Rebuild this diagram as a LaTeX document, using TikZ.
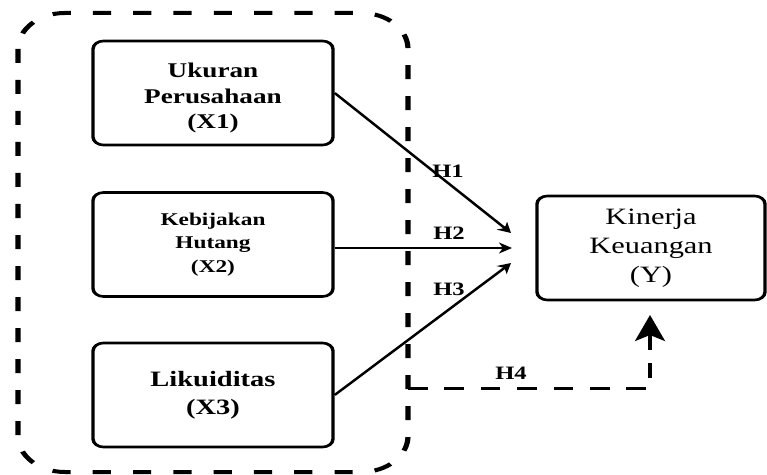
\documentclass[tikz,border=0pt]{standalone}
\usepackage{fontspec}
\setmainfont{Liberation Serif}
\usetikzlibrary{arrows.meta}
\begin{document}
\begin{tikzpicture}[x=0.76923bp,y=-1bp,
  box/.style={draw, line width=2.6bp, rounded corners=8bp, minimum width=184.6bp,
    minimum height=104bp, align=center, inner sep=0pt},
  ybox/.style={draw, line width=2.6bp, rounded corners=8bp, minimum width=175.4bp,
    minimum height=104bp, align=center, inner sep=0pt,
    font=\fontsize{23.5}{29}\selectfont},
  frame/.style={line width=4bp, dash pattern=on 14bp off 17bp, rounded corners=36bp},
  hyp/.style={line width=2.2bp, -{Stealth[length=10bp,width=11bp,inset=3bp]}},
  modline/.style={line width=3bp, dash pattern=on 15bp off 13bp,
    -{Stealth[length=26bp,width=23bp,inset=6bp]}},
  hlab/.style={inner sep=0pt, font=\bfseries\fontsize{19}{19}\selectfont}]
\path[use as bounding box] (0,0) rectangle (997.1,475);
\begin{scope}[transform canvas={xscale=1.3}]
  \draw[frame] (18,13) rectangle (408,472);
  \node[box, font={\bfseries\fontsize{21}{25.5}\selectfont}] (x1) at (213,93) {\rule{0pt}{25bp}Ukuran\\Perusahaan\\(X1)};
  \node[box, font={\bfseries\fontsize{18}{23.5}\selectfont}] (x2) at (213,244.5) {Kebijakan\\Hutang\\(X2)};
  \node[box, font={\bfseries\fontsize{22}{28}\selectfont}] (x3) at (213,395) {Likuiditas\\(X3)};
  \node[ybox] (y) at (651,248) {Kinerja\\Keuangan\\(Y)};
  \coordinate (t1) at (511,233);
  \coordinate (t2) at (512,248);
  \coordinate (t3) at (511,263);
  \coordinate (h4s) at (408,388);
  \coordinate (h4e) at (650,315);
  \draw[hyp] (x1.east) -- (t1);
  \draw[hyp] (x2.east |- t2) -- (t2);
  \draw[hyp] (x3.east) -- (t3);
  \draw[modline] (h4s) -| (h4e);
  \node[hlab] (h1) at (448,171) {H1};
  \node[hlab] (h2) at (449,233) {H2};
  \node[hlab] (h3) at (449,289) {H3};
  \node[hlab] (h4) at (511,373) {H4};
\end{scope}
\end{tikzpicture}
\end{document}
